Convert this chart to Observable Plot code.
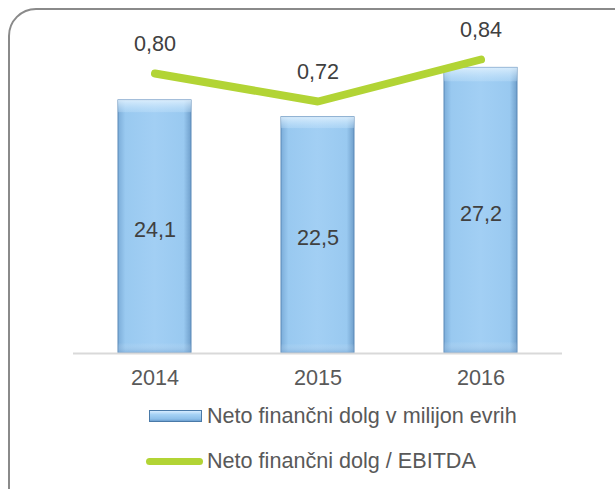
<!DOCTYPE html>
<html>
<head>
<meta charset="utf-8">
<script src="https://cdn.jsdelivr.net/npm/d3@7"></script>
<script src="https://cdn.jsdelivr.net/npm/@observablehq/plot@0.6"></script>
<style>
  html, body { margin: 0; padding: 0; background: #fff; overflow: hidden; }
  body { width: 615px; height: 489px; position: relative; font-family: "Liberation Sans", Arial, sans-serif; }
  #frame { position: absolute; left: 8px; top: 8px; width: 640px; height: 520px; border: 2px solid #8a8a8a; border-radius: 28px; box-sizing: border-box; }
  #chart { position: absolute; left: 0; top: 0; }
  .leg { position: absolute; display: flex; align-items: center; font-size: 21.6px; line-height: 26px; color: #595959; white-space: nowrap; }
  .sw-bar { width: 53px; height: 12px; border: 1px solid #4a7aa8; background: linear-gradient(to bottom, #d6ecff 0%, #a6d2f5 35%, #8dbfe9 80%, #6d9fcf 100%); box-sizing: border-box; margin-right: 5px; }
  .sw-line { width: 57px; height: 7px; border-radius: 4px; background: #b2d435; margin-right: 4px; }
</style>
</head>
<body>
<div id="frame"></div>
<div id="chart"></div>
<div class="leg" style="left:149px; top:403px;"><div class="sw-bar"></div><span>Neto finančni dolg v milijon evrih</span></div>
<div class="leg" style="left:146px; top:448px;"><div class="sw-line"></div><span>Neto finančni dolg / EBITDA</span></div>
<script>
const years = ["2014", "2015", "2016"];
const debt = [24.1, 22.5, 27.2];
const ratio = [0.80, 0.72, 0.84];
const debtLabels = ["24,1", "22,5", "27,2"];
const ratioLabels = ["0,80", "0,72", "0,84"];

const yMax = 30;      // primary axis max (milijon EUR)
const y2Max = 0.9;    // secondary axis max (ratio)
const k = yMax / y2Max;

const bars = years.map((y, i) => ({year: y, value: debt[i], label: debtLabels[i]}));
const pts = years.map((y, i) => ({year: y, value: ratio[i] * k, label: ratioLabels[i]}));

const plot = Plot.plot({
  width: 615,
  height: 395,
  marginLeft: 73,
  marginRight: 53,
  marginTop: 38,
  marginBottom: 42,
  style: {fontFamily: "Liberation Sans, Arial, sans-serif", background: "transparent", overflow: "visible"},
  x: {domain: years, paddingInner: 0.55, paddingOuter: 0.275, axis: null},
  y: {domain: [0, yMax], axis: null},
  marks: [
    Plot.barY(bars, {x: "year", y: "value", fill: "url(#barGrad)", stroke: "#5a89b8", strokeWidth: 1, style: "filter: drop-shadow(1px 2px 2px rgba(0,0,0,0.3))"}),
    Plot.barY(bars, {x: "year", y: "value", fill: "url(#barTop)", stroke: "none"}),
    Plot.ruleY([0], {stroke: "#d9d9d9", strokeWidth: 2}),
    Plot.text(bars, {x: "year", y: d => d.value / 2, text: "label", dy: 3, fontSize: 21.6, fill: "#404040"}),
    Plot.line(pts, {x: "year", y: "value", stroke: "#b2d435", strokeWidth: 8, strokeLinecap: "round", strokeLinejoin: "miter", style: "filter: drop-shadow(1px 2px 2px rgba(0,0,0,0.25))"}),
    Plot.text(pts, {x: "year", y: "value", text: "label", dy: -29, fontSize: 21.6, fill: "#404040"}),
    Plot.text(years, {x: d => d, frameAnchor: "bottom", dy: 31, text: d => d, fontSize: 21.6, fill: "#595959"})
  ]
});

const ns = "http://www.w3.org/2000/svg";
const defs = document.createElementNS(ns, "defs");
defs.innerHTML = `
  <linearGradient id="barGrad" x1="0" y1="0" x2="1" y2="0">
    <stop offset="0" stop-color="#7cadd9"/>
    <stop offset="0.1" stop-color="#99c9f0"/>
    <stop offset="0.5" stop-color="#a2cff4"/>
    <stop offset="0.9" stop-color="#99c9f0"/>
    <stop offset="1" stop-color="#6f9fcb"/>
  </linearGradient>
  <linearGradient id="barTop" x1="0" y1="0" x2="0" y2="1">
    <stop offset="0" stop-color="#e8f5ff" stop-opacity="0.8"/>
    <stop offset="0.045" stop-color="#c9e6fc" stop-opacity="0.35"/>
    <stop offset="0.05" stop-color="#ffffff" stop-opacity="0"/>
    <stop offset="0.96" stop-color="#ffffff" stop-opacity="0"/>
    <stop offset="1" stop-color="#6a9acb" stop-opacity="0.45"/>
  </linearGradient>`;
plot.insertBefore(defs, plot.firstChild);
document.getElementById("chart").appendChild(plot);
</script>
</body>
</html>
